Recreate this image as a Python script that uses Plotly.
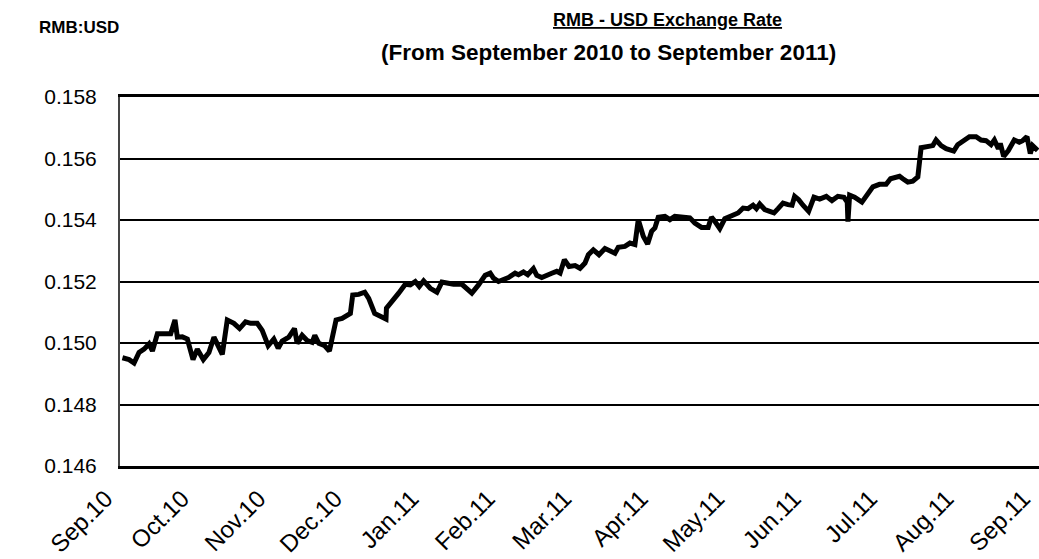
import plotly.graph_objects as go

# Month labels for the category-style x axis (one tick per month)
month_labels = ["Sep.10", "Oct.10", "Nov.10", "Dec.10", "Jan.11", "Feb.11", "Mar.11",
                "Apr.11", "May.11", "Jun.11", "Jul.11", "Aug.11", "Sep.11"]

# Position of each reading, in months since Sep.10
month_pos = [
    0.022, 0.109, 0.174, 0.239, 0.305, 0.370, 0.414, 0.479, 0.566, 0.653,
    0.709, 0.740, 0.805, 0.871, 0.945, 1.001, 1.080, 1.153, 1.219, 1.262,
    1.328, 1.393, 1.480, 1.554, 1.632, 1.698, 1.785, 1.850, 1.928, 2.002,
    2.059, 2.111, 2.198, 2.272, 2.307, 2.372, 2.438, 2.503, 2.538, 2.590,
    2.668, 2.729, 2.816, 2.895, 2.960,
    3.003, 3.034, 3.112, 3.191, 3.243, 3.321, 3.395, 3.469, 3.475, 3.548,
    3.635, 3.722, 3.787, 3.852, 3.904, 3.961, 4.048, 4.135, 4.200, 4.266,
    4.353, 4.462, 4.527, 4.592, 4.679, 4.766, 4.832, 4.875, 4.940, 5.006,
    5.071, 5.158, 5.202, 5.267, 5.323, 5.397, 5.441, 5.506, 5.572, 5.637,
    5.702, 5.746, 5.802, 5.863, 5.942,
    6.007, 6.072, 6.116, 6.181, 6.255, 6.333, 6.399, 6.464, 6.507, 6.594,
    6.660, 6.725, 6.769, 6.834, 6.891, 6.943, 6.986, 7.030, 7.117, 7.182,
    7.247, 7.334, 7.443, 7.508, 7.596, 7.683, 7.726, 7.770, 7.835, 7.900,
    7.987, 8.074, 8.140, 8.205, 8.270, 8.314, 8.357, 8.423, 8.488, 8.544,
    8.597, 8.662, 8.727, 8.780, 8.814, 8.867, 8.923,
    8.997, 9.067, 9.141, 9.228, 9.302, 9.380, 9.459, 9.502, 9.511, 9.533,
    9.598, 9.694, 9.772, 9.837, 9.924, 10.011, 10.068, 10.120, 10.186, 10.229,
    10.294, 10.359, 10.425, 10.468, 10.555, 10.621, 10.664, 10.730, 10.795, 10.895,
    10.947, 11.034, 11.100, 11.187, 11.252, 11.317, 11.383, 11.426, 11.478, 11.504,
    11.548, 11.609, 11.687, 11.752, 11.796, 11.853, 11.896, 11.927, 11.992,
]

# RMB:USD rate read at each position
rate = [
    0.14952, 0.14946, 0.14935, 0.14969, 0.14980, 0.14997, 0.14974, 0.15030, 0.15030, 0.15030,
    0.15075, 0.15019, 0.15020, 0.15013, 0.14946, 0.14980, 0.14946, 0.14969, 0.15019, 0.14997,
    0.14963, 0.15075, 0.15064, 0.15047, 0.15069, 0.15064, 0.15064, 0.15041, 0.14991, 0.15013,
    0.14983, 0.15006, 0.15019, 0.15047, 0.14999, 0.15025, 0.15008, 0.15002, 0.15025, 0.14999,
    0.14991, 0.14974, 0.15075, 0.15080, 0.15092,
    0.15096, 0.15156, 0.15158, 0.15165, 0.15145, 0.15096, 0.15089, 0.15078, 0.15113, 0.15134,
    0.15162, 0.15191, 0.15189, 0.15200, 0.15184, 0.15202, 0.15178, 0.15165, 0.15198, 0.15195,
    0.15191, 0.15191, 0.15178, 0.15162, 0.15189, 0.15220, 0.15227, 0.15211, 0.15200, 0.15205,
    0.15213, 0.15227, 0.15222, 0.15231, 0.15222, 0.15242, 0.15220, 0.15213, 0.15222, 0.15227,
    0.15233, 0.15227, 0.15271, 0.15249, 0.15252,
    0.15243, 0.15260, 0.15287, 0.15303, 0.15287, 0.15307, 0.15300, 0.15292, 0.15311, 0.15314,
    0.15325, 0.15320, 0.15401, 0.15347, 0.15322, 0.15363, 0.15374, 0.15409, 0.15412, 0.15401,
    0.15412, 0.15409, 0.15407, 0.15390, 0.15376, 0.15376, 0.15409, 0.15396, 0.15372, 0.15404,
    0.15412, 0.15423, 0.15439, 0.15437, 0.15448, 0.15437, 0.15452, 0.15434, 0.15428, 0.15423,
    0.15437, 0.15455, 0.15450, 0.15448, 0.15477, 0.15466, 0.15448,
    0.15428, 0.15474, 0.15468, 0.15477, 0.15463, 0.15477, 0.15474, 0.15458, 0.15395, 0.15481,
    0.15474, 0.15458, 0.15484, 0.15508, 0.15516, 0.15516, 0.15534, 0.15537, 0.15542, 0.15534,
    0.15523, 0.15526, 0.15540, 0.15635, 0.15639, 0.15642, 0.15660, 0.15642, 0.15632, 0.15624,
    0.15645, 0.15658, 0.15671, 0.15671, 0.15660, 0.15658, 0.15645, 0.15660, 0.15632, 0.15649,
    0.15607, 0.15626, 0.15660, 0.15653, 0.15658, 0.15671, 0.15616, 0.15642, 0.15626,
]

y_ticks = [0.146, 0.148, 0.150, 0.152, 0.154, 0.156, 0.158]

FONT = "Liberation Sans, Arial, sans-serif"

fig = go.Figure(
    go.Scatter(
        x=month_pos, y=rate, mode="lines",
        line=dict(color="black", width=5),
        hoverinfo="skip",
    )
)

fig.update_layout(
    width=1039, height=559,
    margin=dict(l=120, r=0, t=97, b=93),
    plot_bgcolor="white", paper_bgcolor="white",
    showlegend=False,
    font=dict(family=FONT, color="black"),
    annotations=[
        dict(text="<b><u>RMB - USD Exchange Rate</u></b>", xref="paper", yref="paper",
             x=0.596, y=1.0, yshift=77, xanchor="center", yanchor="middle",
             showarrow=False, font=dict(size=18, family=FONT, color="black")),
        dict(text="<b>(From September 2010 to September 2011)</b>", xref="paper", yref="paper",
             x=0.532, y=1.0, yshift=45, xanchor="center", yanchor="middle",
             showarrow=False, font=dict(size=22.5, family=FONT, color="black")),
        dict(text="<b>RMB:USD</b>", xref="paper", yref="paper",
             x=0, xshift=-83, y=1.0, yshift=70, xanchor="left", yanchor="middle",
             showarrow=False, font=dict(size=17, family=FONT, color="black")),
    ],
)

fig.update_xaxes(
    range=[-0.01, 12.01], tickmode="array", tickvals=list(range(13)), ticktext=month_labels,
    tickangle=-45, showgrid=False, zeroline=False, automargin=False,
    showline=True, mirror=True, linecolor="black", linewidth=3, ticks="",
    tickfont=dict(size=24, family=FONT, color="black"),
    ticklabelstandoff=6, ticklabelshift=-15, ticklabeloverflow="allow",
)
fig.update_yaxes(
    range=[0.146, 0.158], tickmode="array", tickvals=y_ticks,
    ticktext=[f"{v:.3f}" for v in y_ticks],
    showgrid=True, gridcolor="black", gridwidth=2, zeroline=False, automargin=False,
    showline=True, linecolor="#444444", linewidth=2, ticks="",
    tickfont=dict(size=21, family=FONT, color="black"),
    ticklabelstandoff=17,
)

fig.write_html(
    "out.html",
    config={"displayModeBar": False, "staticPlot": True},
    post_script="document.body.style.margin='0';document.body.style.overflow='hidden';",
)
